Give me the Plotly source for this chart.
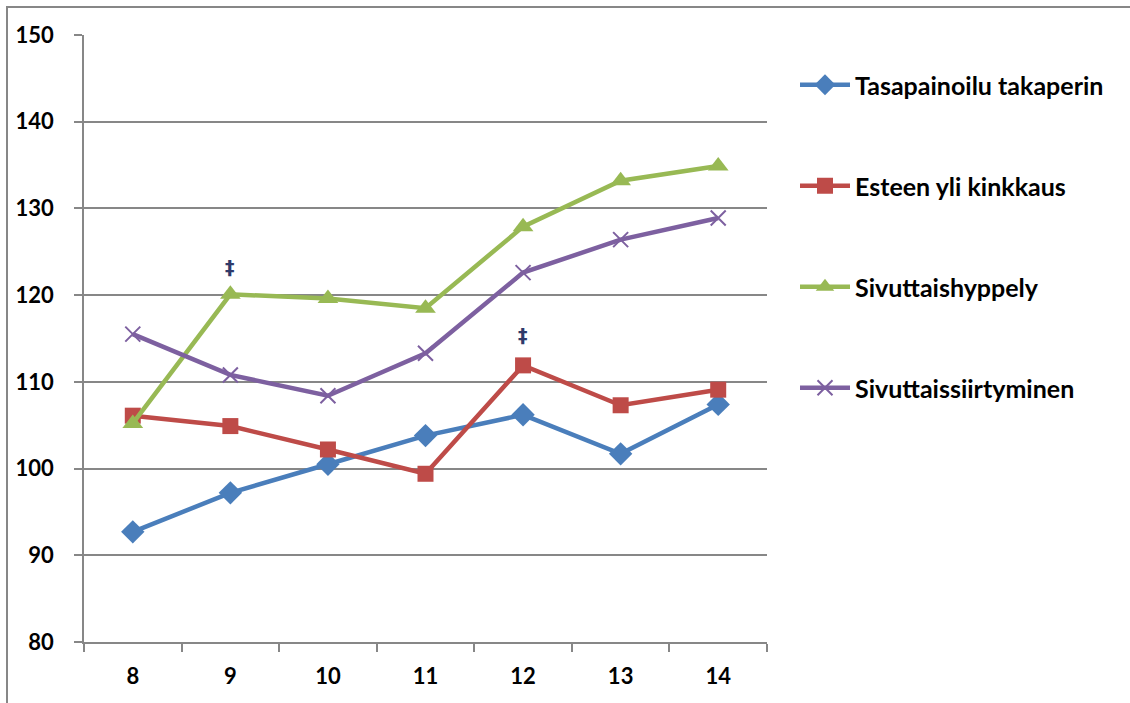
import plotly.graph_objects as go

# Age groups on the x axis
ages = ["8", "9", "10", "11", "12", "13", "14"]

# Mean scores per test
tasapainoilu = [92.7, 97.2, 100.5, 103.8, 106.2, 101.7, 107.4]
esteen_yli = [106.1, 104.9, 102.2, 99.4, 111.9, 107.3, 109.1]
sivuttaishyppely = [105.2, 120.1, 119.6, 118.5, 127.9, 133.2, 134.9]
sivuttaissiirtyminen = [115.5, 110.8, 108.4, 113.3, 122.6, 126.4, 128.9]

# Significance marks: (age, value)
marks = [("9", 123.2), ("12", 115.4)]

y_ticks = [80, 90, 100, 110, 120, 130, 140, 150]

series = [
    ("Tasapainoilu takaperin", tasapainoilu, "#4A7EBB", "diamond", 18),
    ("Esteen yli kinkkaus", esteen_yli, "#BE4B48", "square", 16),
    ("Sivuttaishyppely", sivuttaishyppely, "#98B954", "triangle-up", 18),
    ("Sivuttaissiirtyminen", sivuttaissiirtyminen, "#7D60A0", "x-thin", 15),
]

FONT = "Lato"

fig = go.Figure()
for i, (name, vals, color, sym, size) in enumerate(series):
    marker = dict(symbol=sym, size=size, color=color,
                  line=dict(color=color, width=2 if sym == "x-thin" else 0))
    fig.add_trace(go.Scatter(
        x=ages, y=vals, name=name, mode="lines+markers",
        line=dict(color=color, width=4.5),
        marker=marker,
        legendgroup=f"g{i}",
    ))

for age, val in marks:
    fig.add_annotation(x=ages.index(age), y=val, text="‡", showarrow=False,
                       font=dict(family="DejaVu Sans", size=19, color="#2F3A6A"))

W, H = 1130, 703
L, R, T, B = 84, 767, 35, 642
pw, ph = R - L, B - T

# Outer chart frame (extends past the right and bottom edges)
fig.add_shape(type="rect", xref="paper", yref="paper",
              x0=(7 - L) / pw, x1=(W + 10 - L) / pw,
              y0=(B - (H + 10)) / ph, y1=(B - 7) / ph,
              line=dict(color="#878787", width=2), fillcolor="rgba(0,0,0,0)",
              layer="below")

fig.update_layout(
    width=W, height=H,
    margin=dict(l=L, r=W - R, t=T, b=H - B),
    paper_bgcolor="white", plot_bgcolor="white",
    font=dict(family=FONT, size=22, color="black", weight="bold"),
    showlegend=True,
    legend=dict(x=(795 - L) / pw, y=(B - 62) / ph, xanchor="left", yanchor="top",
                tracegroupgap=65.5, traceorder="grouped",
                font=dict(family=FONT, size=25, color="black", weight="bold"),
                itemwidth=50, bgcolor="rgba(0,0,0,0)"),
    xaxis=dict(
        type="category", range=[-0.5, 6.5], tickson="boundaries",
        ticks="outside", ticklen=8, tickcolor="#878787", tickwidth=1.5,
        showline=True, linecolor="#878787", linewidth=1.5,
        showgrid=False, zeroline=False, ticklabelstandoff=14,
        tickfont=dict(family=FONT, size=22, weight="bold"),
    ),
    yaxis=dict(
        range=[80, 150], tickvals=y_ticks,
        ticks="outside", ticklen=8, tickcolor="#878787", tickwidth=1.5,
        showline=True, linecolor="#878787", linewidth=1.5,
        showgrid=True, gridcolor="#878787", gridwidth=1.5,
        zeroline=False, ticklabelstandoff=16,
        tickfont=dict(family=FONT, size=22, weight="bold"),
    ),
)

fig.write_html("out.html")
